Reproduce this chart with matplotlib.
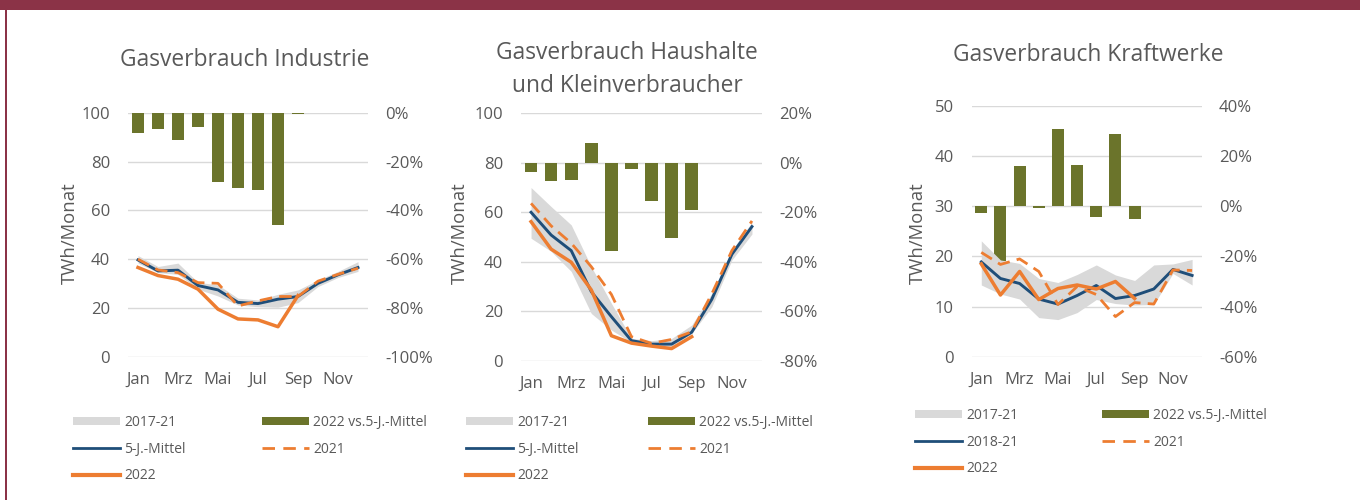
import numpy as np
import matplotlib
matplotlib.use("Agg")
import matplotlib.pyplot as plt
from matplotlib.patches import Patch, Rectangle
from matplotlib.lines import Line2D
from matplotlib.ticker import FuncFormatter

plt.rcParams['font.family'] = ['Open Sans', 'DejaVu Sans']

nan = np.nan
months = ['Jan', 'Feb', 'Mrz', 'Apr', 'Mai', 'Jun', 'Jul', 'Aug', 'Sep', 'Okt', 'Nov', 'Dez']
shown_months = ['Jan', 'Mrz', 'Mai', 'Jul', 'Sep', 'Nov']

# Industrie
ind_band_hi = [41.5, 37.0, 38.4, 30.5, 29.5, 24.0, 23.3, 25.6, 27.4, 31.5, 35.0, 39.0]
ind_band_lo = [38.4, 34.5, 33.8, 27.7, 24.9, 21.2, 20.5, 20.3, 22.2, 28.8, 32.5, 35.0]
ind_mean = [39.7, 35.2, 35.5, 29.2, 27.4, 22.3, 21.8, 23.6, 24.7, 30.1, 33.6, 36.6]
ind_2021 = [40.0, 35.6, 34.5, 30.4, 30.1, 20.8, 22.9, 24.7, 24.7, 31.0, 33.8, 36.3]
ind_2022 = [36.6, 33.3, 31.8, 27.7, 19.5, 15.5, 15.1, 12.3, 25.1, nan, nan, nan]
ind_pct = [-8.2, -6.4, -11.0, -5.8, -28.5, -30.8, -31.8, -45.8, -0.3, nan, nan, nan]

# Haushalte und Kleinverbraucher
hh_band_hi = [70.0, 62.3, 54.9, 38.0, 23.2, 9.0, 8.1, 9.0, 14.4, 27.2, 44.7, 56.0]
hh_band_lo = [49.5, 44.2, 36.1, 19.1, 12.4, 7.4, 5.9, 5.7, 11.0, 21.8, 40.7, 51.2]
hh_mean = [60.0, 50.8, 44.5, 27.9, 17.8, 8.1, 6.7, 6.7, 11.5, 24.8, 43.0, 54.2]
hh_2021 = [63.6, 54.5, 47.5, 38.0, 26.8, 9.7, 7.0, 8.6, 11.7, 27.0, 44.5, 56.5]
hh_2022 = [56.2, 45.1, 39.8, 28.6, 10.1, 7.1, 5.9, 4.9, 9.7, nan, nan, nan]
hh_pct = [-3.8, -7.5, -7.1, 7.8, -35.8, -2.7, -15.4, -30.3, -18.9, nan, nan, nan]

# Kraftwerke
kw_band_hi = [23.1, 19.3, 18.6, 15.6, 14.8, 16.4, 18.3, 16.3, 15.2, 18.3, 18.5, 19.4]
kw_band_lo = [14.3, 12.5, 11.5, 7.8, 7.4, 8.8, 11.4, 10.6, 10.3, 10.4, 16.6, 14.3]
kw_mean = [18.9, 15.6, 14.6, 11.5, 10.5, 12.2, 14.2, 11.6, 12.2, 13.5, 17.4, 16.2]
kw_2021 = [20.8, 18.4, 19.5, 17.0, 10.4, 14.0, 12.4, 8.0, 10.8, 10.5, 17.3, 17.2]
kw_2022 = [18.5, 12.3, 17.0, 11.4, 13.6, 14.3, 13.5, 15.0, 11.6, nan, nan, nan]
kw_pct = [-2.8, -21.8, 16.2, -0.8, 30.7, 16.6, -4.1, 28.9, -5.1, nan, nan, nan]

TXT = '#595959'
GREY = '#d9d9d9'
GREEN = '#6b742b'
BLUE = '#1f4e79'
ORANGE = '#ed7d31'
MAROON = '#8b3347'

W, H = 1360, 500
fig = plt.figure(figsize=(W / 100, H / 100), dpi=100)

def px_rect(x0, x1, y_top, y_bot):
    return [x0 / W, 1 - y_bot / H, (x1 - x0) / W, (y_bot - y_top) / H]

panels = [
    dict(rect=px_rect(128, 368, 113, 356.7), title='Gasverbrauch Industrie', tx=245, ty=60,
         hi=ind_band_hi, lo=ind_band_lo, mean=ind_mean, y21=ind_2021, y22=ind_2022, pct=ind_pct,
         ylim=(0, 100), yt=np.arange(0, 101, 20), plim=(-100, 0), pt=np.arange(-100, 1, 20),
         ylab_x=70, mean_label='5-J.-Mittel', leg=(73, 415), colsp=5.47),
    dict(rect=px_rect(521, 762, 113.3, 360.7), title='Gasverbrauch Haushalte\nund Kleinverbraucher', tx=627, ty=69.5,
         hi=hh_band_hi, lo=hh_band_lo, mean=hh_mean, y21=hh_2021, y22=hh_2022, pct=hh_pct,
         ylim=(0, 100), yt=np.arange(0, 101, 20), plim=(-80, 20), pt=np.arange(-80, 21, 20),
         ylab_x=460, mean_label='5-J.-Mittel', leg=(466, 415), colsp=4.97),
    dict(rect=px_rect(971.7, 1201.7, 106, 356.7), title='Gasverbrauch Kraftwerke', tx=1088, ty=55,
         hi=kw_band_hi, lo=kw_band_lo, mean=kw_mean, y21=kw_2021, y22=kw_2022, pct=kw_pct,
         ylim=(0, 50), yt=np.arange(0, 51, 10), plim=(-60, 40), pt=np.arange(-60, 41, 20),
         ylab_x=918, mean_label='2018-21', leg=(915, 408), colsp=6.0),
]

x = np.arange(12)
for p in panels:
    axp = fig.add_axes(p['rect'])
    axv = axp.twinx()
    # percent bars (bottom layer)
    axp.bar(x, p['pct'], width=0.63, color=GREEN, zorder=2)
    axp.set_ylim(*p['plim'])
    axp.set_yticks(p['pt'])
    axp.yaxis.set_major_formatter(FuncFormatter(lambda v, _: f"{int(round(v))}%"))
    axp.yaxis.tick_right()
    axp.grid(axis='y', color=GREY, lw=1.0, zorder=0)
    axp.set_axisbelow(True)
    axp.set_xlim(-0.5, 11.5)
    axp.set_xticks(x[::2])
    axp.set_xticklabels(shown_months)
    # value lines (top layer)
    axv.fill_between(x, p['lo'], p['hi'], color=GREY, lw=0, zorder=1)
    axv.plot(x, p['mean'], color=BLUE, lw=2.1, zorder=3, solid_joinstyle='round')
    axv.plot(x, p['y21'], color=ORANGE, lw=2.0, ls=(0, (4.5, 2.6)), zorder=4)
    axv.plot(x, p['y22'], color=ORANGE, lw=2.5, zorder=5, solid_joinstyle='round')
    axv.set_ylim(*p['ylim'])
    axv.set_yticks(p['yt'])
    axv.yaxis.tick_left()
    axv.set_xlim(-0.5, 11.5)
    for a in (axp, axv):
        for s in a.spines.values():
            s.set_visible(False)
        a.tick_params(length=0, colors=TXT, labelsize=12)
    axp.tick_params(axis='y', pad=12.5)
    axv.tick_params(axis='y', pad=13)
    axp.tick_params(axis='x', pad=11)
    fig.text(p['ylab_x'] / W, 1 - 233 / H, 'TWh/Monat', rotation=90, ha='center', va='center',
             color=TXT, fontsize=13.3)
    fig.text(p['tx'] / W, 1 - p['ty'] / H, p['title'], ha='center', va='center', color=TXT,
             fontsize=16.4, linespacing=1.45)
    handles = [Patch(facecolor=GREY, edgecolor='none'),
               Line2D([], [], color=BLUE, lw=2.0),
               Line2D([], [], color=ORANGE, lw=3.0),
               Patch(facecolor=GREEN, edgecolor='none'),
               Line2D([], [], color=ORANGE, lw=2.0, ls=(0, (4.5, 3.0)))]
    labels = ['2017-21', p['mean_label'], '2022', '2022 vs.5-J.-Mittel', '2021']
    fig.legend(handles, labels, ncol=2, loc='upper left',
               bbox_to_anchor=(p['leg'][0] / W, 1 - p['leg'][1] / H),
               frameon=False, fontsize=10, labelcolor=TXT, borderpad=0, borderaxespad=0,
               handlelength=3.4, handleheight=0.5, handletextpad=0.3,
               columnspacing=p['colsp'], labelspacing=0.84)

# frame decoration
fig.add_artist(Rectangle((0, 1 - 10 / H), 1, 10 / H, transform=fig.transFigure,
                         facecolor=MAROON, edgecolor='none'))
fig.add_artist(Rectangle((5 / W, 0), 2.2 / W, 1, transform=fig.transFigure,
                         facecolor=MAROON, edgecolor='none'))

fig.savefig('out.png', dpi=100)
